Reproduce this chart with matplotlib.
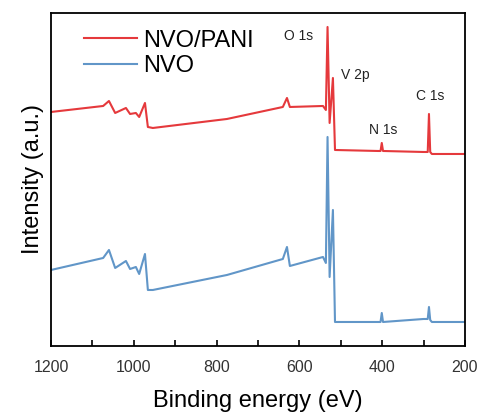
import matplotlib
matplotlib.use('Agg')
import matplotlib.pyplot as plt

plt.rcParams['font.family'] = ['Liberation Sans', 'DejaVu Sans']

# binding energy (eV) and intensity (a.u.)
energy = [1200, 1074, 1060, 1045, 1019, 1009, 995, 987, 973, 966, 954,
          775, 640, 630, 623, 543, 536, 532, 527, 519, 514,
          410, 404, 401, 398, 300, 290, 287, 284, 280, 200]
nvo_pani = [234, 240, 245, 233, 238, 232, 233, 229, 243, 219, 218,
            227, 239, 248, 239, 240, 236, 319, 223, 268, 196,
            195, 195, 203, 195, 194, 194, 232, 194, 192, 192]
nvo = [76, 88, 96, 78, 85, 77, 79, 72, 92, 56, 56,
       71, 87, 99, 80, 89, 83, 209, 69, 136, 24,
       24, 24, 33, 24, 27, 27, 39, 26, 24, 24]

peak_labels = ['O 1s', 'V 2p', 'N 1s', 'C 1s']
peak_pos = [[603, 310], [466, 271], [398, 216], [285, 250]]

red = '#E5393C'
blue = '#6196C8'

fig = plt.figure(figsize=(4.82, 4.16), dpi=100)
ax = fig.add_axes([0.1058, 0.1683, 0.8589, 0.8005])

ax.plot(energy, nvo_pani, color=red, lw=1.5, label='NVO/PANI')
ax.plot(energy, nvo, color=blue, lw=1.5, label='NVO')

for lab, (px, py) in zip(peak_labels, peak_pos):
    ax.text(px, py, lab, fontsize=10, ha='center', va='center', color='#222222')

ax.set_xlim(1200, 200)
ax.set_ylim(0, 333)
ax.set_xticks([1200, 1000, 800, 600, 400, 200])
ax.set_xticks([1100, 900, 700, 500, 300], minor=True)
ax.set_yticks([])
ax.tick_params(axis='x', which='both', direction='in', length=4, width=1.2,
               labelsize=11.5, labelcolor='#333333', pad=10)
for s in ax.spines.values():
    s.set_linewidth(1.3)

ax.set_xlabel('Binding energy (eV)', fontsize=17, labelpad=11)
ax.set_ylabel('Intensity (a.u.)', fontsize=17, labelpad=5)

leg = ax.legend(loc='upper left', bbox_to_anchor=(0.04, 1.0), frameon=False,
                fontsize=17, handlelength=2.25, handletextpad=0.25,
                labelspacing=0.15, borderaxespad=0.3)

fig.savefig('out.png', dpi=100)
